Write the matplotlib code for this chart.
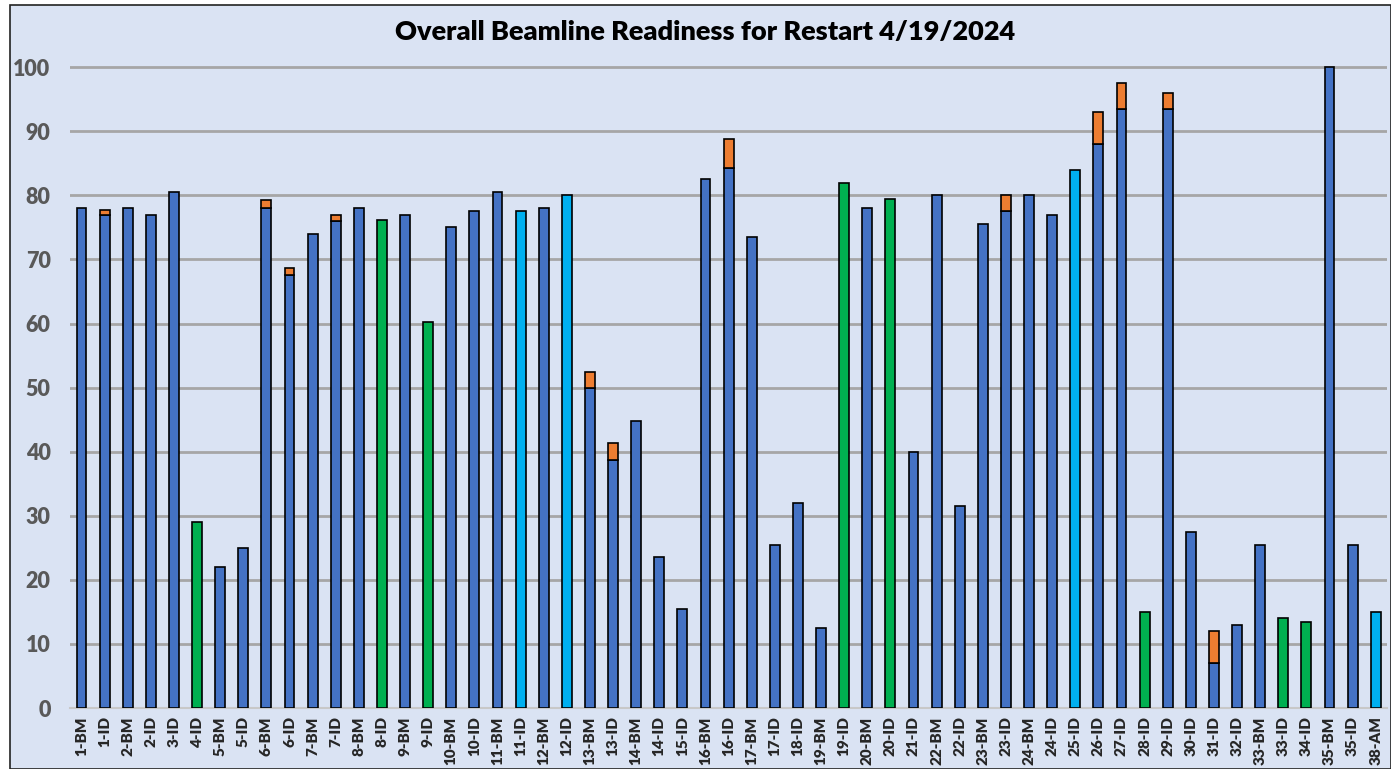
import matplotlib.pyplot as plt
from matplotlib.patches import Rectangle

# beamline labels and readiness values
beamlines = ['1-BM', '1-ID', '2-BM', '2-ID', '3-ID', '4-ID', '5-BM', '5-ID', '6-BM', '6-ID',
             '7-BM', '7-ID', '8-BM', '8-ID', '9-BM', '9-ID', '10-BM', '10-ID', '11-BM', '11-ID',
             '12-BM', '12-ID', '13-BM', '13-ID', '14-BM', '14-ID', '15-ID', '16-BM', '16-ID', '17-BM',
             '17-ID', '18-ID', '19-BM', '19-ID', '20-BM', '20-ID', '21-ID', '22-BM', '22-ID', '23-BM',
             '23-ID', '24-BM', '24-ID', '25-ID', '26-ID', '27-ID', '28-ID', '29-ID', '30-ID', '31-ID',
             '32-ID', '33-BM', '33-ID', '34-ID', '35-BM', '35-ID', '38-AM']

base = [78, 77, 78, 77, 80.5, 29, 22, 25, 78, 67.5,
        74, 76, 78, 76.2, 77, 60.3, 75, 77.5, 80.5, 77.5,
        78, 80, 50, 38.7, 44.8, 23.5, 15.5, 82.5, 84.2, 73.5,
        25.5, 32, 12.5, 82, 78, 79.5, 40, 80, 31.5, 75.5,
        77.5, 80, 77, 84, 88, 93.5, 15, 93.5, 27.5, 7,
        13, 25.5, 14, 13.5, 100, 25.5, 15]

extra = [0, 0.7, 0, 0, 0, 0, 0, 0, 1.3, 1.1,
         0, 1.0, 0, 0, 0, 0, 0, 0, 0, 0,
         0, 0, 2.5, 2.6, 0, 0, 0, 0, 4.6, 0,
         0, 0, 0, 0, 0, 0, 0, 0, 0, 0,
         2.5, 0, 0, 0, 5.0, 4.0, 0, 2.5, 0, 5.0,
         0, 0, 0, 0, 0, 0, 0]

# b = blue, g = green, c = light blue
kind = ['b', 'b', 'b', 'b', 'b', 'g', 'b', 'b', 'b', 'b',
        'b', 'b', 'b', 'g', 'b', 'g', 'b', 'b', 'b', 'c',
        'b', 'c', 'b', 'b', 'b', 'b', 'b', 'b', 'b', 'b',
        'b', 'b', 'b', 'g', 'b', 'g', 'b', 'b', 'b', 'b',
        'b', 'b', 'b', 'c', 'b', 'b', 'g', 'b', 'b', 'b',
        'b', 'b', 'g', 'g', 'b', 'b', 'c']

colors = {'b': '#4472C4', 'g': '#00B050', 'c': '#00B0F0'}
bg = '#DAE3F3'

plt.rcParams['font.family'] = ['Lato', 'DejaVu Sans']

fig = plt.figure(figsize=(13.91, 7.69), dpi=100)
fig.patch.set_facecolor('white')
fig.add_artist(Rectangle((0.0072, 0.0), 0.993, 0.993, transform=fig.transFigure,
                         facecolor=bg, edgecolor='#222222', linewidth=1.2, zorder=0))

ax = fig.add_axes([0.0503, 0.0793, 0.947, 0.850])
ax.set_facecolor('none')

x = list(range(len(beamlines)))
ax.bar(x, base, width=0.43, color=[colors[k] for k in kind],
       edgecolor='black', linewidth=1.2, zorder=3)
ax.bar(x, extra, width=0.43, bottom=base, color='#ED7D31',
       edgecolor=['black' if e > 0 else 'none' for e in extra], linewidth=1.2, zorder=3)

ax.set_xlim(-0.5, len(beamlines) - 0.5)
ax.set_ylim(0, 102)
ax.set_yticks(range(0, 101, 10))
ax.yaxis.grid(True, color='#A6A6A6', linewidth=2)
ax.set_axisbelow(True)
for s in ['top', 'right', 'left']:
    ax.spines[s].set_visible(False)
ax.spines['bottom'].set_color('#C8C8C8')
ax.spines['bottom'].set_linewidth(1.5)

ax.set_xticks(x)
ax.set_xticklabels(beamlines, rotation=90, fontsize=11, fontweight='heavy', color='#262626')
ax.tick_params(axis='x', length=0, pad=6)
ax.set_yticklabels([str(v) for v in range(0, 101, 10)], fontsize=15.5, fontweight='heavy',
                   color='#595959')
ax.tick_params(axis='y', length=0, pad=14)

fig.text(0.507, 0.958, 'Overall Beamline Readiness for Restart 4/19/2024',
         ha='center', va='center', fontsize=19.5, fontweight='heavy', color='black')

fig.savefig('out.png', dpi=100, facecolor=fig.get_facecolor())
